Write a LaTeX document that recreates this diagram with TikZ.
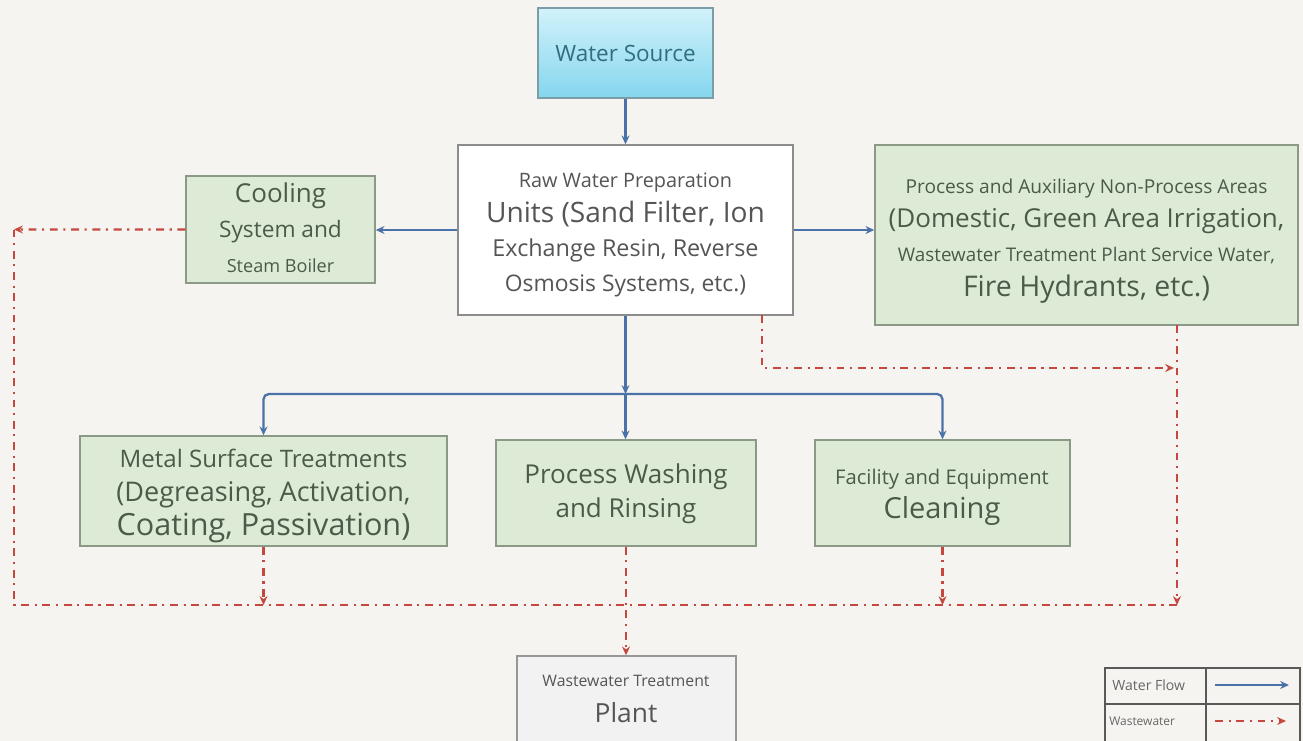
\documentclass[tikz,border=0pt]{standalone}
\usepackage{fontspec}
\setmainfont{Open Sans}
\usetikzlibrary{arrows.meta,fit,calc}
\definecolor{bgc}{HTML}{F6F4F0}
\definecolor{greenfill}{HTML}{DDEBD6}
\definecolor{greenedge}{HTML}{8A9A86}
\definecolor{greentext}{HTML}{4B5A49}
\definecolor{graytext}{HTML}{555555}
\definecolor{grayedge}{HTML}{8C8C8C}
\definecolor{wstop}{HTML}{D2F2FA}
\definecolor{wsbot}{HTML}{84D6EE}
\definecolor{wsedge}{HTML}{7C9CA6}
\definecolor{wstext}{HTML}{2F6E7E}
\definecolor{bluec}{HTML}{4A72A8}
\definecolor{redc}{HTML}{C4483E}
\newcommand\fsz[2]{\fontsize{#1}{#2}\selectfont}
\begin{document}
\begin{tikzpicture}[x=0.02cm,y=-0.02cm,
  box/.style={draw=greenedge, fill=greenfill, line width=0.8pt, inner sep=0pt},
  txt/.style={inner sep=0pt, align=center, text=greentext},
  water/.style={draw=bluec, line width=1.3pt, -{Stealth[length=5pt,width=4.5pt]}},
  waste/.style={draw=redc, line width=1.2pt, dash pattern=on 4.5pt off 3.2pt on 1.2pt off 3.2pt, -{Stealth[length=5pt,width=4.5pt]}},
  legtext/.style={text=gray!80!black, inner sep=0pt, anchor=west},
]
\clip (0,0) rectangle (1303,741);
\fill[bgc] (0,0) rectangle (1303,741);

% boxes
\node[box, fit={(538,8) (713,98)}, top color=wstop, bottom color=wsbot, draw=wsedge] (src) {};
\node[box, fit={(458,145) (793,315)}, fill=white, draw=grayedge] (raw) {};
\node[box, fit={(186,176) (375,283)}] (cool) {};
\node[box, fit={(875,145) (1298,325)}] (proc) {};
\node[box, fit={(80,436) (447,546)}] (metal) {};
\node[box, fit={(496,440) (756,546)}] (wash) {};
\node[box, fit={(815,440) (1070,546)}] (fac) {};
\node[box, fit={(517,656) (736,760)}, fill=black!5, draw=grayedge!90] (wwtp) {};

% texts
\node[txt, text=wstext, font=\fsz{12.8}{15}] (srct) at (625.5,53) {Water Source};
\node[txt, text=graytext, font=\fsz{10}{19.8}] (rawt) at (625.5,235)
  {{\fsz{11.3}{19.8}Raw Water Preparation}\\{\fsz{16}{19.8}Units (Sand Filter, Ion}\\{\fsz{13.3}{19.8}Exchange Resin, Reverse}\\{\fsz{13}{19.8}Osmosis Systems, etc.)}};
\node[txt, font=\fsz{10}{20}] (coolt) at (280.5,228)
  {{\fsz{14.8}{20}Cooling}\\{\fsz{12.9}{20}System and}\\{\fsz{10.3}{20}Steam Boiler}};
\node[txt, font=\fsz{10}{19.5}] (proct) at (1086.5,241)
  {{\fsz{10.9}{19.5}Process and Auxiliary Non-Process Areas}\\{\fsz{14.8}{19.5}(Domestic, Green Area Irrigation,}\\{\fsz{10.7}{19.5}Wastewater Treatment Plant Service Water,}\\{\fsz{16.2}{19.5}Fire Hydrants, etc.)}};
\node[txt, font=\fsz{10}{19.5}] (metalt) at (263.5,496)
  {{\fsz{13.7}{19.5}Metal Surface Treatments}\\{\fsz{15.4}{19.5}(Degreasing, Activation,}\\{\fsz{17.4}{19.5}Coating, Passivation)}};
\node[txt, font=\fsz{14.8}{19.3}] (washt) at (626,494)
  {Process Washing\\and Rinsing};
\node[txt, font=\fsz{10}{19.5}] (fact) at (942,497)
  {{\fsz{11.5}{19.5}Facility and Equipment}\\{\fsz{16.5}{19.5}Cleaning}};
\node[txt, text=graytext, font=\fsz{10}{20.5}] (wwtpt) at (626,699)
  {{\fsz{9}{20.5}Wastewater Treatment}\\{\fsz{15}{20.5}Plant}};

% water flow
\draw[water] (src) -- (raw);
\draw[water] (raw.west) -- (raw.west -| cool.east);
\draw[water] (raw.east) -- (raw.east -| proc.west);
\coordinate (br) at (625.5,394);
\draw[water] (raw.south) -- (br);
\draw[water] (br) -- (br |- wash.north);
\draw[water, rounded corners=3pt] (br) -| (metal.north);
\draw[water, rounded corners=3pt] (br) -| (fac.north);

% wastewater
\coordinate (wl) at (14,229.5);
\coordinate (wbl) at (14,605);
\coordinate (wbr) at (1177,605);
\coordinate (procout) at (1177,325);
\coordinate (rawout) at (762,315);
\coordinate (rwr) at (1174,368);
\draw[waste] (cool.west) -- (wl);
\draw[waste, -] (wl) -- (wbl) -- (wbr);
\draw[waste] (metal.south) -- (metal.south |- wbl);
\draw[waste] (wash.south) -- (wash.south |- wwtp.north);
\draw[waste] (fac.south) -- (fac.south |- wbl);
\draw[waste] (procout) -- (wbr);
\draw[waste] (rawout) |- (rwr);

% legend
\draw[draw=gray!70!black, line width=0.8pt] (1105,668) rectangle (1300,760);
\draw[draw=gray!70!black, line width=0.8pt] (1105,704) -- (1300,704);
\draw[draw=gray!70!black, line width=0.8pt] (1206,668) -- (1206,760);
\node[legtext, font=\fsz{8}{9}] (lwf) at (1112,685) {Water Flow};
\node[legtext, font=\fsz{6.8}{8}] (lww) at (1109,721) {Wastewater};
\coordinate (la1) at (1215,685);
\coordinate (la2) at (1289,685);
\coordinate (lb1) at (1215,721);
\coordinate (lb2) at (1286,721);
\draw[water] (la1) -- (la2);
\draw[waste] (lb1) -- (lb2);
\end{tikzpicture}
\end{document}
